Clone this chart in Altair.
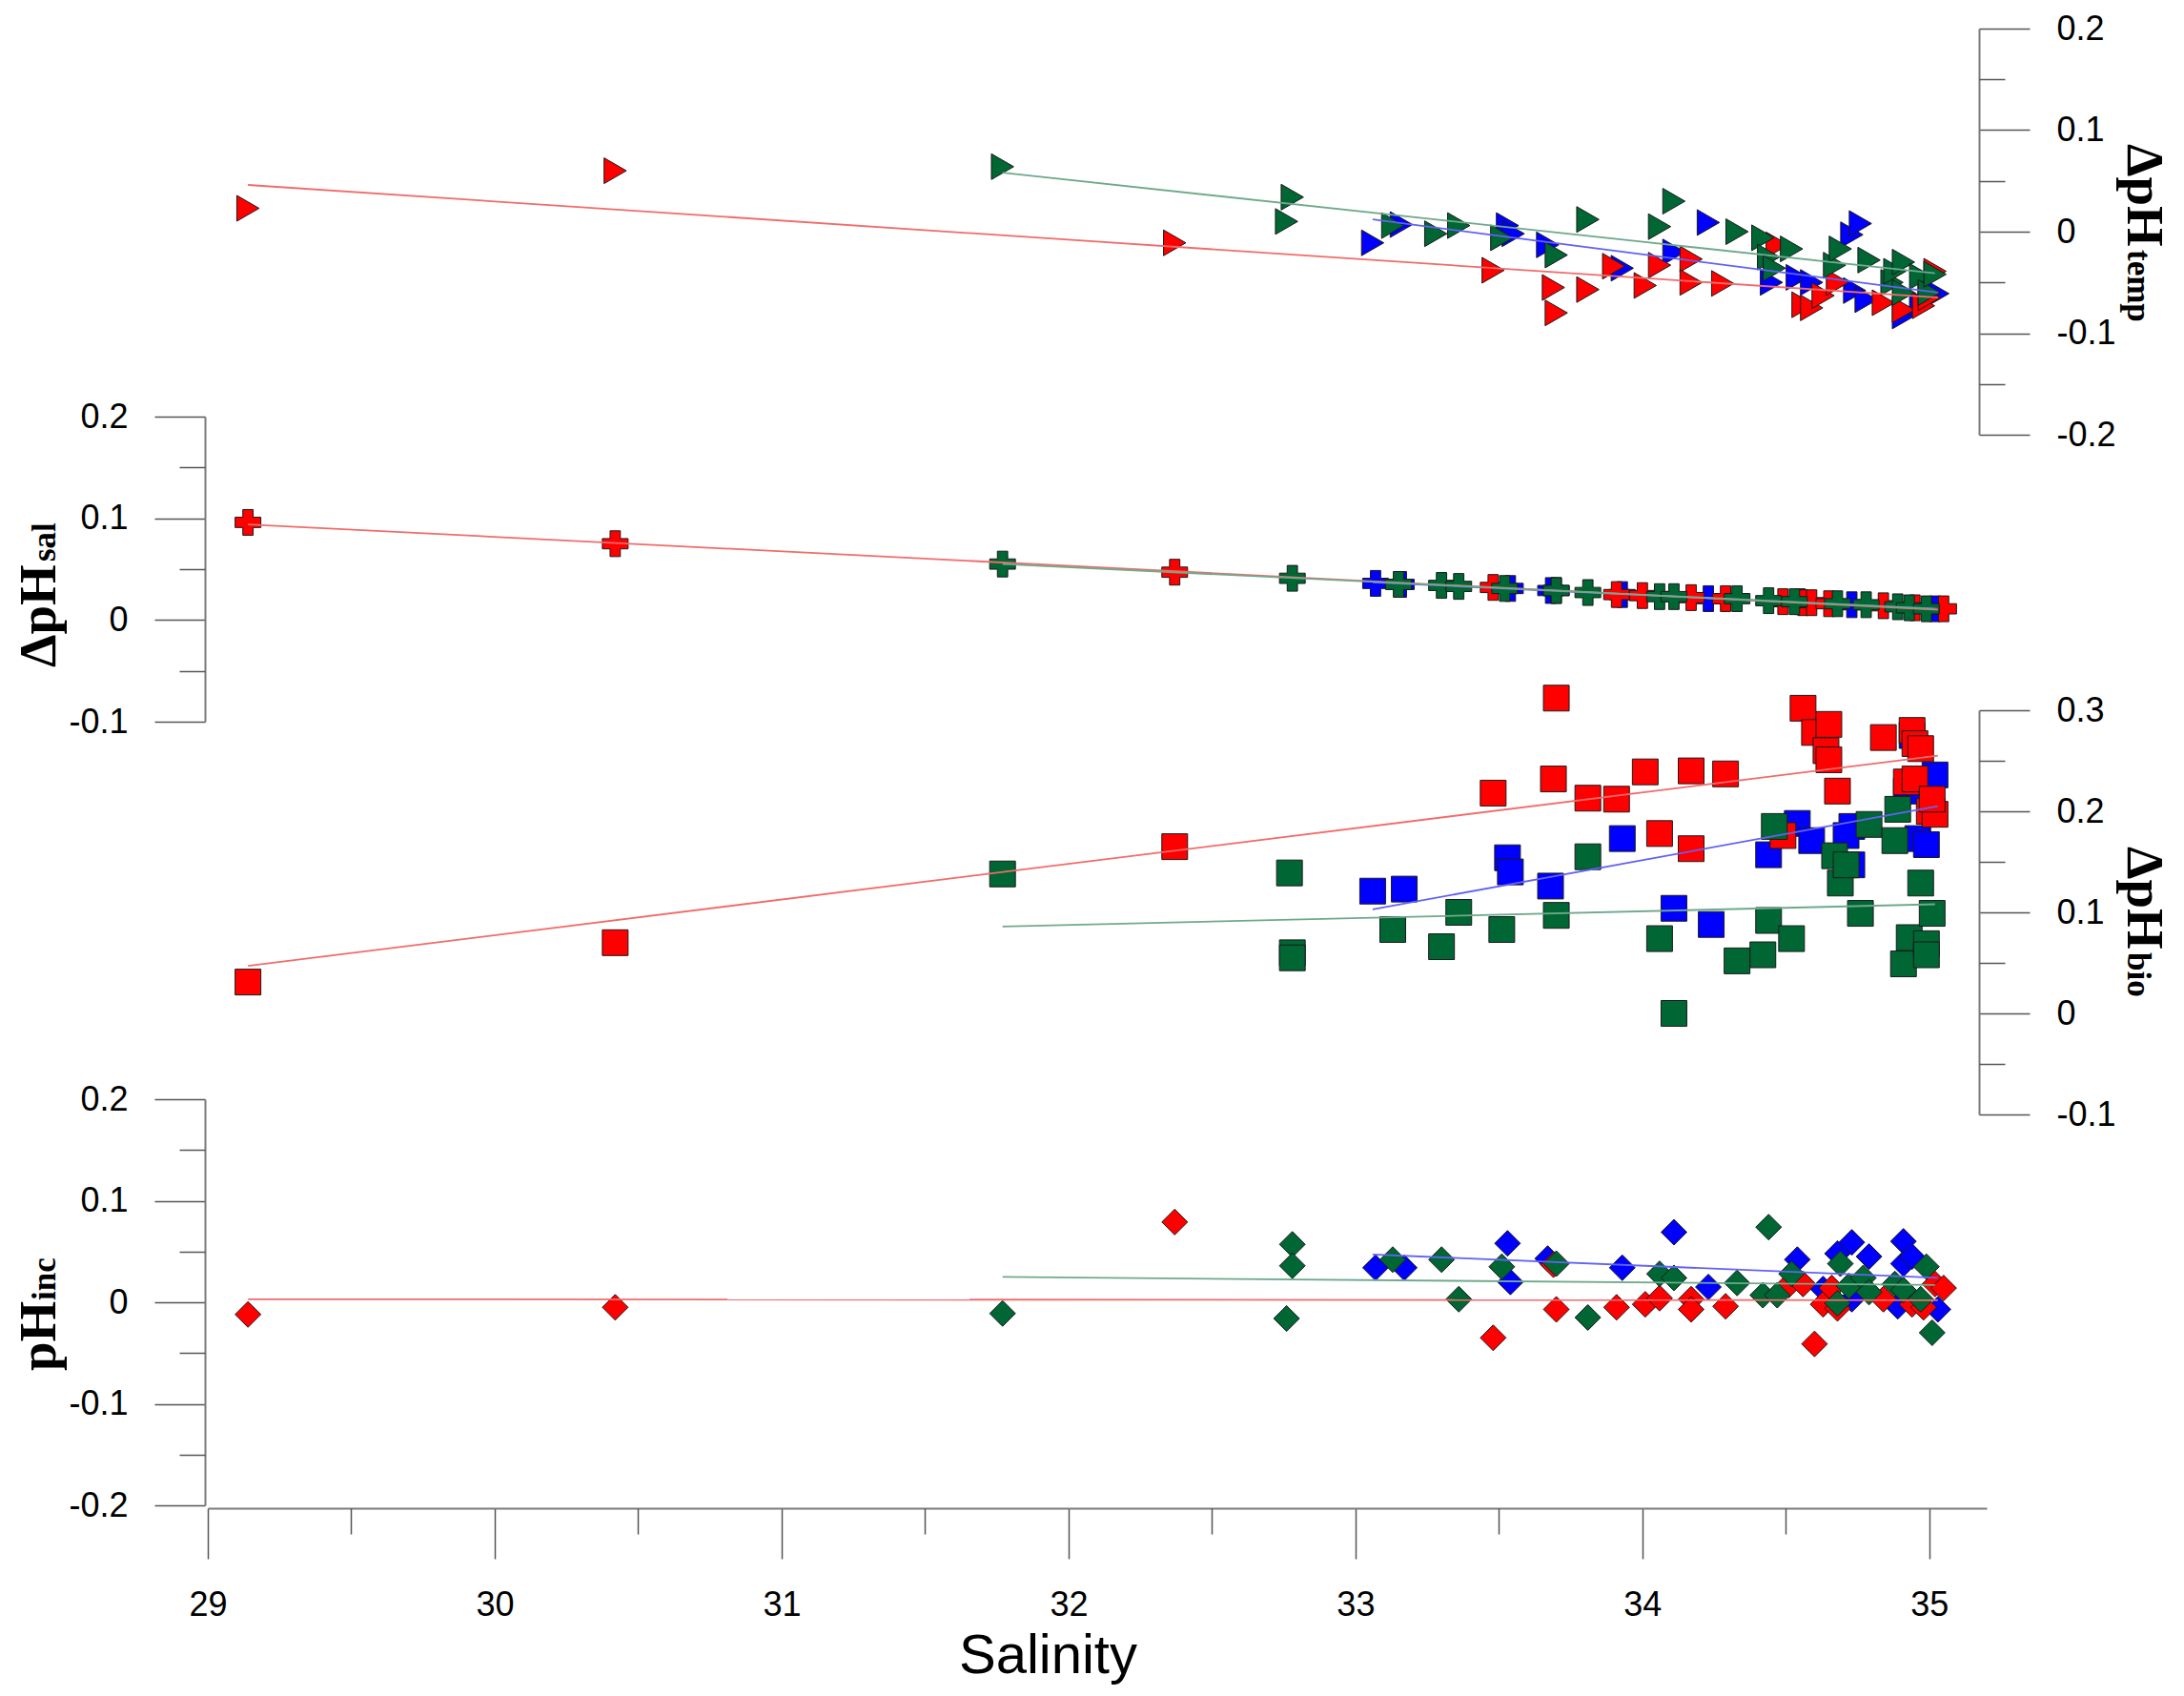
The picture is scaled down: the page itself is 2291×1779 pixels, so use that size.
import altair as alt
import pandas as pd

# ---------------- data ----------------
# Panel 1: delta pH (temperature), right-pointing triangles
temp_red_s = [29.14, 30.42, 32.37, 33.48, 33.69, 33.70, 33.81, 33.90, 34.01, 34.06, 34.17, 34.17, 34.28, 34.47,
              34.56, 34.59, 34.63, 34.68, 34.84, 34.91, 34.98, 35.00, 35.02]
temp_red_v = [0.023, 0.060, -0.011, -0.038, -0.055, -0.080, -0.057, -0.034, -0.053, -0.033, -0.027, -0.050, -0.051, -0.013,
              -0.072, -0.075, -0.063, -0.050, -0.070, -0.077, -0.073, -0.065, -0.039]
temp_blue_s = [33.06, 33.16, 33.53, 33.55, 33.67, 33.93, 34.11, 34.23, 34.45, 34.54, 34.59, 34.73, 34.76, 34.74,
               34.78, 34.91, 34.97, 35.00, 35.03]
temp_blue_v = [-0.011, 0.007, 0.006, -0.002, -0.013, -0.036, -0.020, 0.009, -0.050, -0.045, -0.050, -0.003, 0.008, -0.058,
               -0.067, -0.083, -0.070, -0.058, -0.061]
temp_green_s = [31.77, 32.78, 32.76, 33.13, 33.28, 33.36, 33.51, 33.70, 33.81, 34.06, 34.11, 34.33, 34.42, 34.44,
                34.46, 34.52, 34.67, 34.69, 34.79, 34.87, 34.88, 34.91, 34.91, 34.97, 35.00, 35.02]
temp_green_v = [0.064, 0.034, 0.010, 0.006, -0.002, 0.006, -0.006, -0.023, 0.012, 0.005, 0.030, 0.000, -0.006, -0.025,
                -0.036, -0.017, -0.033, -0.017, -0.028, -0.050, -0.039, -0.030, -0.060, -0.044, -0.060, -0.042]

# Panel 2: delta pH (salinity), crosses
sal_red_s = [29.14, 30.42, 32.37, 33.48, 33.70, 33.91, 34.00, 34.17, 34.29, 34.49, 34.56, 34.59, 34.65, 34.84, 34.95, 35.05]
sal_red_v = [0.096, 0.075, 0.047, 0.032, 0.029, 0.025, 0.024, 0.022, 0.021, 0.018, 0.017, 0.017, 0.016, 0.014, 0.012, 0.011]
sal_blue_s = [33.07, 33.16, 33.54, 33.68, 33.93, 34.23, 34.55, 34.73, 35.02]
sal_blue_v = [0.036, 0.035, 0.031, 0.029, 0.025, 0.021, 0.018, 0.015, 0.011]
sal_green_s = [31.77, 32.78, 33.15, 33.30, 33.36, 33.52, 33.70, 33.81, 34.06, 34.11, 34.33, 34.44, 34.53, 34.68,
               34.78, 34.89, 34.93, 34.99]
sal_green_v = [0.055, 0.041, 0.035, 0.034, 0.033, 0.031, 0.029, 0.027, 0.023, 0.023, 0.021, 0.019, 0.018, 0.016,
               0.015, 0.013, 0.012, 0.011]

# Panel 3: delta pH (biology), squares
bio_red_s = [29.14, 30.42, 32.37, 33.48, 33.69, 33.70, 33.81, 33.91, 34.01, 34.06, 34.17, 34.17, 34.29, 34.49, 34.56,
             34.60, 34.65, 34.64, 34.65, 34.68, 34.84, 34.92, 34.94, 34.95, 34.95, 34.97, 35.00, 35.02, 35.01]
bio_red_v = [0.031, 0.070, 0.165, 0.218, 0.232, 0.312, 0.213, 0.212, 0.239, 0.178, 0.240, 0.163, 0.237, 0.176, 0.302,
             0.278, 0.286, 0.260, 0.251, 0.220, 0.273, 0.229, 0.280, 0.267, 0.232, 0.262, 0.200, 0.197, 0.212]
bio_blue_s = [33.06, 33.17, 33.53, 33.54, 33.68, 33.93, 34.11, 34.24, 34.44, 34.54, 34.59, 34.73, 34.71, 34.73,
              34.92, 34.94, 34.96, 34.99, 35.02, 35.01]
bio_blue_v = [0.121, 0.123, 0.154, 0.140, 0.126, 0.173, 0.104, 0.088, 0.157, 0.188, 0.171, 0.185, 0.176, 0.147,
              0.220, 0.275, 0.173, 0.167, 0.236, 0.200]
bio_green_s = [31.77, 32.77, 32.78, 32.78, 33.13, 33.30, 33.36, 33.51, 33.70, 33.81, 34.06, 34.11, 34.33, 34.42,
               34.44, 34.46, 34.52, 34.67, 34.69, 34.71, 34.76, 34.79, 34.88, 34.89, 34.91, 34.93, 34.97, 34.99,
               34.99, 35.01]
bio_green_v = [0.138, 0.139, 0.060, 0.055, 0.083, 0.066, 0.100, 0.083, 0.097, 0.155, 0.074, 0.000, 0.052, 0.058,
               0.092, 0.185, 0.074, 0.156, 0.129, 0.147, 0.099, 0.187, 0.171, 0.202, 0.049, 0.075, 0.129, 0.069,
               0.058, 0.099]

# Panel 4: pH (inc), diamonds
inc_red_s = [29.14, 30.42, 32.37, 33.48, 33.69, 33.70, 33.91, 34.01, 34.06, 34.17, 34.17, 34.29, 34.51, 34.56,
             34.60, 34.63, 34.66, 34.68, 34.84, 34.94, 34.98, 35.02, 35.05]
inc_red_v = [-0.012, -0.005, 0.079, -0.035, 0.037, -0.007, -0.005, -0.002, 0.004, 0.003, -0.007, -0.004, 0.017, 0.018,
             -0.041, -0.002, 0.014, -0.006, 0.003, -0.002, -0.005, 0.018, 0.014]
inc_blue_s = [33.07, 33.17, 33.53, 33.54, 33.67, 33.93, 34.11, 34.23, 34.54, 34.63, 34.68, 34.73, 34.73, 34.79,
              34.89, 34.91, 34.91, 34.94, 35.03]
inc_blue_v = [0.034, 0.034, 0.058, 0.020, 0.043, 0.034, 0.069, 0.015, 0.042, 0.013, 0.048, 0.059, 0.003, 0.045,
              -0.004, 0.060, 0.038, 0.045, -0.007]
inc_green_s = [31.77, 32.78, 32.78, 32.76, 33.13, 33.30, 33.36, 33.51, 33.70, 33.81, 34.06, 34.11, 34.33, 34.42,
               34.44, 34.47, 34.52, 34.68, 34.69, 34.72, 34.77, 34.79, 34.88, 34.91, 34.97, 34.99, 35.01]
inc_green_v = [-0.011, 0.057, 0.036, -0.016, 0.042, 0.042, 0.003, 0.035, 0.038, -0.015, 0.028, 0.024, 0.019, 0.007,
               0.074, 0.007, 0.028, -0.001, 0.038, 0.016, 0.024, 0.010, 0.018, 0.012, 0.003, 0.035, -0.030]

# Fitted lines (end points)
fit_s = {"red": [29.14, 35.03], "blue": [33.06, 35.03], "green": [31.77, 35.02]}
fit_temp = {"red": [0.046, -0.065], "blue": [0.012, -0.060], "green": [0.058, -0.041]}
fit_sal = {"red": [0.094, 0.010], "blue": [0.037, 0.011], "green": [0.055, 0.011]}
fit_bio = {"red": [0.047, 0.255], "blue": [0.103, 0.205], "green": [0.086, 0.108]}
fit_inc = {"red": [0.003, 0.002], "blue": [0.047, 0.024], "green": [0.025, 0.017]}

x_major = [29, 30, 31, 32, 33, 34, 35]
x_minor = [29.5, 30.5, 31.5, 32.5, 33.5, 34.5]

# ---------------- styling ----------------
SERIES = ["blue", "red", "green"]  # drawing order (green on top)
FILL = ["#0000FF", "#FF0000", "#006633"]
LINE = ["#6262F5", "#F26B6B", "#6FA98C"]

W, H = 1866, 1552
LABEL_EXPR = "datum.value == 0 ? '0' : (datum.value < 0 ? '-' : '') + format(abs(datum.value), '.1f')"

xscale = alt.Scale(domain=[29, 35.2], nice=False, zero=False)
fill_scale = alt.Scale(domain=SERIES, range=FILL)
line_scale = alt.Scale(domain=SERIES, range=LINE)

panel_points = {
    "temp": {"red": (temp_red_s, temp_red_v), "blue": (temp_blue_s, temp_blue_v), "green": (temp_green_s, temp_green_v)},
    "sal": {"red": (sal_red_s, sal_red_v), "blue": (sal_blue_s, sal_blue_v), "green": (sal_green_s, sal_green_v)},
    "bio": {"red": (bio_red_s, bio_red_v), "blue": (bio_blue_s, bio_blue_v), "green": (bio_green_s, bio_green_v)},
    "inc": {"red": (inc_red_s, inc_red_v), "blue": (inc_blue_s, inc_blue_v), "green": (inc_green_s, inc_green_v)},
}
panel_fits = {"temp": fit_temp, "sal": fit_sal, "bio": fit_bio, "inc": fit_inc}

panels = [
    dict(key="temp", domain=[-0.2, 0.2], rng=[426, 0], orient="right", shape="triangle-right",
         major=[-0.2, -0.1, 0, 0.1, 0.2], minor=[-0.15, -0.05, 0.05, 0.15]),
    dict(key="sal", domain=[-0.1, 0.2], rng=[727, 407], orient="left", shape="cross",
         major=[-0.1, 0, 0.1, 0.2], minor=[-0.05, 0.05, 0.15]),
    dict(key="bio", domain=[-0.1, 0.3], rng=[1139, 715], orient="right", shape="square",
         major=[-0.1, 0, 0.1, 0.2, 0.3], minor=[-0.05, 0.05, 0.15, 0.25]),
    dict(key="inc", domain=[-0.2, 0.2], rng=[1549, 1123], orient="left", shape="diamond",
         major=[-0.2, -0.1, 0, 0.1, 0.2], minor=[-0.15, -0.05, 0.05, 0.15]),
]

AX_COMMON = dict(grid=False, domainColor="#7a7a7a", domainWidth=2, tickColor="#555555", tickWidth=1.5,
                 labelFont="Liberation Sans", labelFontSize=36, labelColor="#000000",
                 labelOverlap=False, labelFlush=False, labelBound=False, title=None)


def y_axis(p, major):
    off = -8 if p["orient"] == "right" else 3
    if major:
        return alt.Axis(orient=p["orient"], values=p["major"], tickSize=53, labelPadding=28,
                        labelExpr=LABEL_EXPR, offset=off, **AX_COMMON)
    return alt.Axis(orient=p["orient"], values=p["minor"], tickSize=27, labels=False, domain=False,
                    offset=off, **AX_COMMON)


x_major_axis = alt.Axis(orient="bottom", values=x_major, tickSize=53, labelPadding=31, format="d",
                        domain=True, **{k: v for k, v in AX_COMMON.items() if k != "title"},
                        title="Salinity", titleFont="Liberation Sans", titleFontSize=58,
                        titleFontWeight="normal", titleColor="#000000",
                        titleX=881, titleY=172, titleBaseline="alphabetic", titleAlign="center")
x_minor_axis = alt.Axis(orient="bottom", values=x_minor, tickSize=27, labels=False, domain=False,
                        **AX_COMMON)

layers = []
for p in panels:
    rows = []
    for sname in SERIES:
        ss, vv = panel_points[p["key"]][sname]
        for s, v in zip(ss, vv):
            rows.append({"sal": s, "v": v, "series": sname})
    pdf = pd.DataFrame(rows)
    frows = []
    for sname in SERIES:
        for s, v in zip(fit_s[sname], panel_fits[p["key"]][sname]):
            frows.append({"sal": s, "v": v, "series": sname})
    fdf = pd.DataFrame(frows)
    yscale = alt.Scale(domain=p["domain"], range=p["rng"], nice=False, zero=False)
    bottom = p["key"] == "inc"

    pts = alt.Chart(pdf).mark_point(
        shape=p["shape"], filled=True, size=729, opacity=1, fillOpacity=1,
        stroke="#1a1a1a", strokeWidth=1
    ).encode(
        x=alt.X("sal:Q", scale=xscale, axis=x_major_axis if bottom else None),
        y=alt.Y("v:Q", scale=yscale, axis=y_axis(p, True)),
        fill=alt.Fill("series:N", scale=fill_scale, legend=None),
    )
    lines = alt.Chart(fdf).mark_line(strokeWidth=1.8).encode(
        x=alt.X("sal:Q", scale=xscale, axis=x_minor_axis if bottom else None),
        y=alt.Y("v:Q", scale=yscale, axis=y_axis(p, False)),
        stroke=alt.Stroke("series:N", scale=line_scale, legend=None),
    )
    layers += [pts, lines]

# ---------------- axis titles (main part + subscript) ----------------
titles = [
    # text, x, y, angle, size
    ("ΔpH", 2014, 121, 90, 55),
    ("temp", 2014, 232, 90, 35),
    ("ΔpH", -160, 670, 270, 55),
    ("sal", -160, 559, 270, 35),
    ("ΔpH", 2014, 858, 90, 55),
    ("bio", 2014, 969, 90, 35),
    ("pH", -160, 1408, 270, 55),
    ("inc", -160, 1334, 270, 35),
]
for txt, tx, ty, ang, fs in titles:
    layers.append(
        alt.Chart(pd.DataFrame({"t": [txt]})).mark_text(
            font="Liberation Serif", fontWeight="bold", fontSize=fs, angle=ang,
            align="left", baseline="alphabetic", color="#000000"
        ).encode(text="t:N", x=alt.value(tx), y=alt.value(ty))
    )

chart = alt.layer(*layers).resolve_scale(
    y="independent"
).resolve_axis(
    x="independent", y="independent"
).properties(
    width=W, height=H,
    autosize=alt.AutoSizeParams(type="none"),
    padding={"left": 210, "top": 22, "right": 199, "bottom": 189},
    background="#ffffff",
).configure_view(stroke=None)

chart.save("out.html", embed_options={"renderer": "svg", "actions": False})
